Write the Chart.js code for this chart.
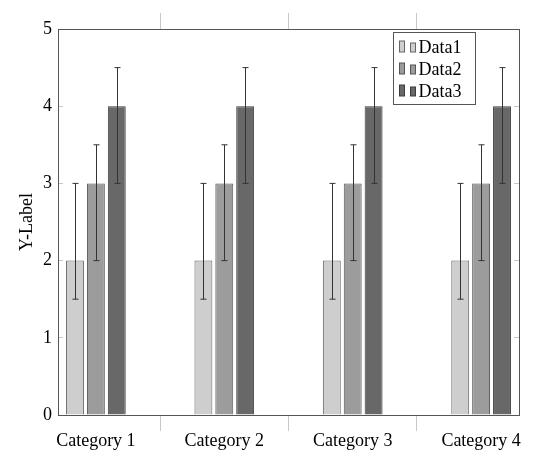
<!DOCTYPE html>
<html>
<head>
<meta charset="utf-8">
<script src="https://cdn.jsdelivr.net/npm/chart.js@4.4.0/dist/chart.umd.min.js"></script>
<style>
  html, body { margin: 0; padding: 0; background: #fff; }
  #wrap { width: 540px; height: 461px; }
</style>
</head>
<body>
<div id="wrap"><canvas id="chart"></canvas></div>
<script>
const categories = ["Category 1", "Category 2", "Category 3", "Category 4"];
const seriesNames = ["Data1", "Data2", "Data3"];
const data1 = [2, 2, 2, 2];
const data2 = [3, 3, 3, 3];
const data3 = [4, 4, 4, 4];
// error bar ends (lower / upper)
const data1Low = [1.5, 1.5, 1.5, 1.5];
const data1High = [3, 3, 3, 3];
const data2Low = [2, 2, 2, 2];
const data2High = [3.5, 3.5, 3.5, 3.5];
const data3Low = [3, 3, 3, 3];
const data3High = [4.5, 4.5, 4.5, 4.5];
const yTicks = [0, 1, 2, 3, 4, 5];

const FONT = "Liberation Serif";
const fillColors = ["#cecece", "#9c9c9c", "#686868"];
const edgeColors = ["#666666", "#555555", "#3c3c3c"];
const lows = [data1Low, data2Low, data3Low];
const highs = [data1High, data2High, data3High];

const xMin = -0.295, xMax = categories.length - 1 + 0.295;
const catTicks = [];
categories.forEach((c, i) => {
  catTicks.push(i);
  if (i < categories.length - 1) catTicks.push(i + 0.5);
});
const sepTicks = catTicks.filter(v => v % 1 !== 0);

function toPoints(arr) {
  return arr.map((v, i) => ({ x: i, y: v }));
}

// vertical error bars on each bar
const errorBars = {
  id: "errorBars",
  afterDatasetsDraw(chart) {
    const ctx = chart.ctx;
    const y = chart.scales.y;
    ctx.save();
    ctx.strokeStyle = "#333";
    ctx.lineWidth = 1;
    chart.data.datasets.forEach((ds, i) => {
      const meta = chart.getDatasetMeta(i);
      meta.data.forEach((bar, j) => {
        const x = Math.round(bar.x) + 0.5;
        const y1 = y.getPixelForValue(lows[i][j]);
        const y2 = y.getPixelForValue(highs[i][j]);
        ctx.beginPath();
        ctx.moveTo(x, y1); ctx.lineTo(x, y2);
        ctx.moveTo(x - 3, y1); ctx.lineTo(x + 3, y1);
        ctx.moveTo(x - 3, y2); ctx.lineTo(x + 3, y2);
        ctx.stroke();
      });
    });
    ctx.restore();
  }
};

// legend box inside the plot, top right
const legendBox = {
  id: "legendBox",
  afterDraw(chart) {
    const { ctx, chartArea } = chart;
    const w = 82, h = 72;
    const x0 = Math.round(chartArea.right - 44 - w) + 0.5;
    const y0 = Math.round(chartArea.top + 3) + 0.5;
    ctx.save();
    ctx.fillStyle = "#fff";
    ctx.strokeStyle = "#555";
    ctx.lineWidth = 1;
    ctx.fillRect(x0, y0, w, h);
    ctx.strokeRect(x0, y0, w, h);
    ctx.font = "18px '" + FONT + "'";
    ctx.textBaseline = "alphabetic";
    chart.data.datasets.forEach((ds, i) => {
      const cy = Math.round(y0 + 14 + i * 22);
      ctx.fillStyle = ds.backgroundColor;
      ctx.strokeStyle = ds.borderColor;
      ctx.fillRect(x0 + 6, cy - 6, 5, 11);
      ctx.strokeRect(x0 + 6, cy - 6, 5, 11);
      ctx.fillRect(x0 + 17, cy - 4, 5, 9);
      ctx.strokeRect(x0 + 17, cy - 4, 5, 9);
      ctx.fillStyle = "#000";
      ctx.fillText(ds.label, x0 + 25, cy + 6);
    });
    ctx.restore();
  }
};

// the bar ruler also counts the half-step separator ticks, so the group
// width is given relative to half a category
const datasets = [data1, data2, data3].map((vals, i) => ({
  label: seriesNames[i],
  data: toPoints(vals),
  backgroundColor: fillColors[i],
  borderColor: edgeColors[i],
  borderWidth: 1,
  borderSkipped: "bottom",
  categoryPercentage: 0.976,
  barPercentage: 0.857,
  xAxisID: "x",
  yAxisID: "y"
}));

const ctx = document.getElementById("chart").getContext("2d");
new Chart(ctx, {
  type: "bar",
  data: { datasets: datasets },
  plugins: [errorBars, legendBox],
  options: {
    responsive: true,
    maintainAspectRatio: false,
    animation: false,
    layout: { padding: 0 },
    plugins: {
      legend: { display: false },
      tooltip: { enabled: false }
    },
    scales: {
      x: {
        type: "linear",
        position: "bottom",
        min: xMin,
        max: xMax,
        offset: false,
        afterBuildTicks: s => { s.ticks = catTicks.map(v => ({ value: v })); },
        afterFit: s => { s.height = 46; },
        ticks: {
          autoSkip: false,
          maxRotation: 0,
          padding: -1,
          color: "#000",
          font: { family: FONT, size: 18 },
          callback: v => Number.isInteger(v) ? categories[v] : ""
        },
        grid: {
          offset: false,
          drawOnChartArea: false,
          drawTicks: true,
          tickLength: 16,
          color: c => (c.tick && c.tick.value % 1 !== 0) ? "#c8c8c8" : "rgba(0,0,0,0)"
        },
        border: { display: true, color: "#555" }
      },
      xt: {
        type: "linear",
        position: "top",
        min: xMin,
        max: xMax,
        offset: false,
        afterBuildTicks: s => { s.ticks = sepTicks.map(v => ({ value: v })); },
        afterFit: s => { s.height = 29; },
        ticks: { display: false },
        grid: {
          offset: false,
          drawOnChartArea: false,
          tickLength: 16,
          color: "#c8c8c8"
        },
        border: { display: true, color: "#555" }
      },
      y: {
        type: "linear",
        position: "left",
        min: 0,
        max: 5,
        afterBuildTicks: s => { s.ticks = yTicks.map(v => ({ value: v })); },
        afterFit: s => { s.width = 58; },
        ticks: {
          padding: 11,
          color: "#000",
          font: { family: FONT, size: 18 }
        },
        grid: {
          drawOnChartArea: false,
          tickLength: -5,
          color: "#c8c8c8"
        },
        border: { display: true, color: "#555" },
        title: {
          display: true,
          text: "Y-Label",
          color: "#000",
          padding: { top: 16, bottom: 0 },
          font: { family: FONT, size: 18 }
        }
      },
      y2: {
        type: "linear",
        position: "right",
        min: 0,
        max: 5,
        afterBuildTicks: s => { s.ticks = yTicks.map(v => ({ value: v })); },
        afterFit: s => { s.width = 21; },
        ticks: { display: false },
        grid: {
          drawOnChartArea: false,
          tickLength: -5,
          color: "#c8c8c8"
        },
        border: { display: true, color: "#555" }
      }
    }
  }
});
</script>
</body>
</html>
